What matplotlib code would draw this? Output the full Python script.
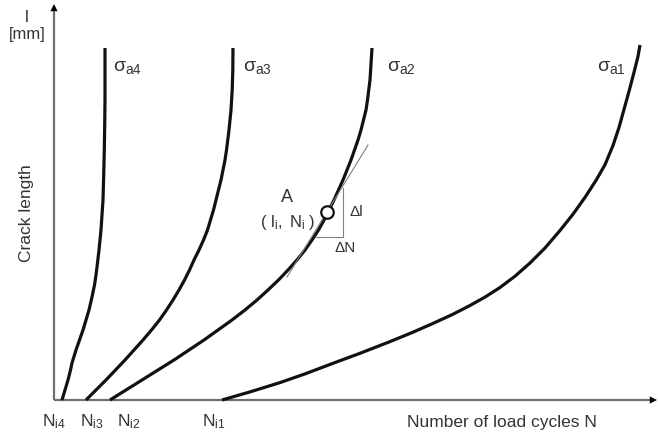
import numpy as np
import matplotlib.pyplot as plt

plt.rcParams['font.family'] = ['Liberation Sans', 'DejaVu Sans']
plt.rcParams['mathtext.fontset'] = 'custom'
plt.rcParams['mathtext.rm'] = 'Liberation Sans'
plt.rcParams['mathtext.it'] = 'Liberation Sans:italic'
plt.rcParams['mathtext.bf'] = 'Liberation Sans:bold'

# crack growth curves (N = load cycles, l = crack length)
N_a4 = [8, 11, 14, 16.5, 18, 22, 25.5, 29, 32, 35, 38, 40.5, 42, 43.5, 45, 47, 48, 49,
        49.7, 50.3, 50.7, 51, 51]
l_a4 = [0, 10, 20, 30, 37, 50, 60, 70, 80, 90, 103, 115, 125, 137, 150, 170, 185, 200,
        225, 250, 275, 300, 352]

N_a3 = [32, 42, 52, 61.5, 71, 80, 89, 97.5, 105.5, 112.5, 119, 125, 130.5, 135.5, 140,
        145, 149.5, 153.5, 156.5, 159.5, 162, 164.5, 167, 169, 171, 172.5, 175, 177, 178.2,
        178.8, 179]
l_a3 = [0, 10, 20, 30, 40, 50, 60, 70, 80, 90, 100, 110, 120, 130, 140, 150, 160, 170,
        180, 190, 200, 210, 220, 230, 240, 250, 270, 290, 310, 330, 352]

N_a2 = [56, 72, 88, 104, 120, 135, 150, 164, 178, 191, 203, 214, 224.5, 234, 243, 251,
        258, 264.5, 270, 275, 280, 284.5, 289, 293, 297, 300.5, 304, 307, 309.5, 312,
        313.5, 316, 317, 318]
l_a2 = [0, 10, 20, 30, 40, 50, 60, 70, 80, 90, 100, 110, 120, 130, 140, 150, 160, 170,
        180, 190, 200, 210, 220, 230, 240, 250, 260, 270, 280, 290, 300, 320, 336, 352]

N_a1 = [168, 196, 226, 251, 279, 306, 336, 358, 379, 398, 416, 432, 446, 461, 476, 491,
        506, 519, 531, 542, 551, 559, 565, 569, 575, 580, 584, 586]
l_a1 = [0, 8.1, 17.4, 26.1, 36.7, 46.7, 58.4, 67.4, 76.6, 85.3, 94.5, 103.5, 112.5, 123.8,
        137, 152, 169.5, 185.8, 202.6, 219.6, 235.3, 254.5, 272.5, 287, 308.6, 327.6,
        343.6, 355]

curves = [(N_a4, l_a4, 'a4'), (N_a3, l_a3, 'a3'), (N_a2, l_a2, 'a2'), (N_a1, l_a1, 'a1')]
label_N = [59, 189, 333, 543]

# point A with tangent and slope triangle
A_N, A_l = 273, 188
tan_N = [233, 314]
tan_l = [123, 255]
tri_N = [261, 289, 289]
tri_l = [163, 163, 212]

ticks_N = [0, 38, 75, 160]
ticks_lab = ['i4', 'i3', 'i2', 'i1']

fig = plt.figure(figsize=(6.58, 4.37), dpi=100)
ax = fig.add_axes([0, 0, 1, 1])
ax.set_xlim(-54, 604)
ax.set_ylim(-37, 400)
ax.axis('off')

axis_col = '#707070'
txt_col = '#333333'

# axes with arrow heads
ax.plot([0, 0], [0, 392], color=axis_col, lw=1.6, solid_capstyle='butt')
ax.plot([0, 596], [0, 0], color=axis_col, lw=1.6, solid_capstyle='butt')
ax.annotate('', xy=(0, 396), xytext=(0, 385),
            arrowprops=dict(arrowstyle='-|>', color='black', lw=0, mutation_scale=13,
                            shrinkA=0, shrinkB=0))
ax.annotate('', xy=(603, 0), xytext=(590, 0),
            arrowprops=dict(arrowstyle='-|>', color='black', lw=0, mutation_scale=13,
                            shrinkA=0, shrinkB=0))

for (n, l, lab), ln in zip(curves, label_N):
    ax.plot(n, l, color='#111111', lw=2.3, solid_capstyle='butt', solid_joinstyle='round')
    ax.text(ln, 333, r'$\mathrm{\sigma}_{\mathrm{' + lab + '}}$', fontsize=14,
            color=txt_col, ha='left', va='center')

ax.plot(tan_N, tan_l, color='#808080', lw=0.8)
ax.plot(tri_N, tri_l, color='#808080', lw=0.8)
ax.plot([A_N], [A_l], 'o', ms=9, mfc='white', mec='#111111', mew=1.6, zorder=5)

ax.text(233, 202, 'A', fontsize=13, color=txt_col, ha='center', va='center')
ax.text(234, 178, r'$\mathrm{(\ l_{i},\ N_{i}\ )}$', fontsize=12, color=txt_col,
        ha='center', va='center')
ax.text(296, 188, 'Δl', fontsize=11, color=txt_col, ha='left', va='center')
ax.text(291, 152, 'ΔN', fontsize=11, color=txt_col, ha='center', va='center')

for n, lab in zip(ticks_N, ticks_lab):
    ax.text(n, -22, r'$\mathrm{N}_{\mathrm{' + lab + '}}$', fontsize=12.5,
            color=txt_col, ha='center', va='center')

ax.text(-27, 382, 'l', fontsize=12, color=txt_col, ha='center', va='center')
ax.text(-27, 365, '[mm]', fontsize=12, color=txt_col, ha='center', va='center')
ax.text(-27, 187, 'Crack length', fontsize=12.5, color=txt_col, rotation=90,
        ha='center', va='center')
ax.text(448, -23, 'Number of load cycles N', fontsize=12.5, color=txt_col,
        ha='center', va='center')

fig.savefig('out.png', dpi=100)
